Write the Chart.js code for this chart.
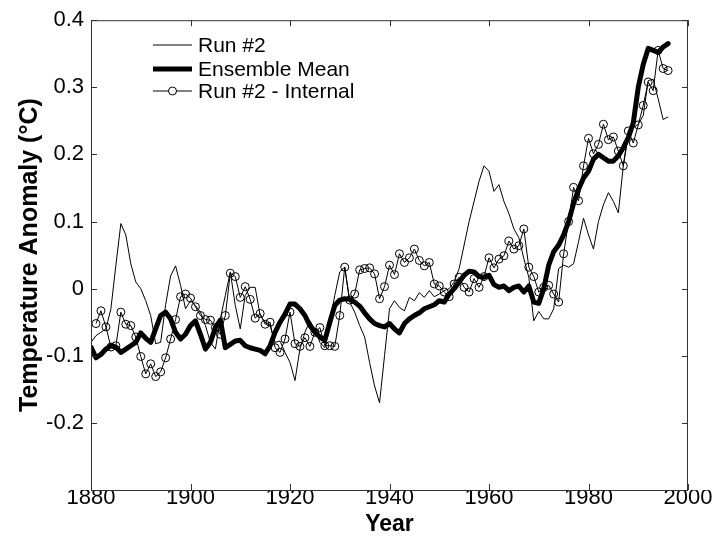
<!DOCTYPE html>
<html>
<head>
<meta charset="utf-8">
<title>Temperature Anomaly</title>
<script src="https://cdn.jsdelivr.net/npm/chart.js@4.4.1/dist/chart.umd.min.js"></script>
<style>
  html, body { margin: 0; padding: 0; background: #fff; }
  #wrap { width: 719px; height: 542px; }
</style>
</head>
<body>
<div id="wrap"><canvas id="anomalyChart" width="719" height="542"></canvas></div>
<script>
// Annual values, 1880 - 1996
const startYear = 1880;

// Run #2 (thin line)
const run2 = [
  -0.080, -0.070, -0.065, -0.060, -0.030, 0.035, 0.097, 0.080, 0.037, 0.010,
  0.000, -0.018, -0.040, -0.082, -0.080, -0.024, 0.019, 0.034, 0.005, -0.030,
  -0.018, -0.025, -0.035, -0.055, -0.080, -0.090, -0.045, -0.010, 0.025, -0.025,
  -0.060, -0.010, 0.002, 0.002, -0.040, -0.050, -0.055, -0.080, -0.078, -0.095,
  -0.110, -0.137, -0.090, -0.065, -0.048, -0.060, -0.080, -0.088, -0.050, -0.010,
  0.025, 0.032, -0.020, -0.035, -0.055, -0.072, -0.110, -0.145, -0.170, -0.100,
  -0.030, -0.018, -0.028, -0.033, -0.013, -0.018, -0.006, -0.013, -0.003, -0.012,
  -0.008, -0.003, 0.000, 0.010, 0.030, 0.065, 0.100, 0.130, 0.160, 0.183,
  0.175, 0.145, 0.155, 0.130, 0.112, 0.089, 0.076, 0.045, 0.017, -0.048,
  -0.034, -0.045, -0.045, -0.030, 0.030, 0.035, 0.032, 0.037, 0.070, 0.105,
  0.080, 0.059, 0.100, 0.125, 0.143, 0.130, 0.113, 0.183, 0.228, 0.240,
  0.245, 0.258, 0.310, 0.312, 0.283, 0.252, 0.256
];

// Ensemble Mean (thick line)
const ensembleMean = [
  -0.087, -0.103, -0.098, -0.090, -0.085, -0.087, -0.095, -0.090, -0.085, -0.080,
  -0.066, -0.074, -0.080, -0.060, -0.040, -0.035, -0.045, -0.065, -0.075, -0.068,
  -0.055, -0.048, -0.068, -0.090, -0.080, -0.058, -0.047, -0.088, -0.083, -0.078,
  -0.077, -0.085, -0.088, -0.090, -0.092, -0.097, -0.085, -0.065, -0.050, -0.038,
  -0.023, -0.023, -0.030, -0.040, -0.055, -0.065, -0.072, -0.077, -0.050, -0.025,
  -0.017, -0.015, -0.016, -0.020, -0.026, -0.036, -0.045, -0.052, -0.055, -0.057,
  -0.052, -0.060, -0.066, -0.052, -0.045, -0.040, -0.036, -0.030, -0.027, -0.024,
  -0.018, -0.020, -0.008, 0.000, 0.010, 0.020, 0.026, 0.025, 0.018, 0.017,
  0.020, 0.006, 0.002, 0.004, -0.003, 0.002, 0.004, -0.005, 0.004, -0.020,
  -0.022, 0.000, 0.035, 0.055, 0.065, 0.080, 0.100, 0.127, 0.148, 0.165,
  0.175, 0.193, 0.200, 0.195, 0.190, 0.190, 0.198, 0.210, 0.225, 0.247,
  0.300, 0.334, 0.358, 0.355, 0.352, 0.360, 0.365
];

// Run #2 - Internal (thin line with circles)
const run2Internal = [
  null, -0.052, -0.033, -0.057, -0.087, -0.085, -0.035, -0.053, -0.055, -0.072,
  -0.101, -0.127, -0.112, -0.131, -0.124, -0.103, -0.075, -0.046, -0.012, -0.008,
  -0.014, -0.027, -0.040, -0.046, -0.047, -0.058, -0.068, -0.040, 0.023, 0.018,
  -0.013, 0.003, -0.016, -0.044, -0.037, -0.053, -0.050, -0.088, -0.095, -0.075,
  -0.035, -0.082, -0.086, -0.073, -0.086, -0.065, -0.058, -0.085, -0.085, -0.086,
  -0.040, 0.032, -0.017, -0.008, 0.028, 0.030, 0.031, 0.022, -0.015, 0.003,
  0.035, 0.021, 0.052, 0.039, 0.046, 0.059, 0.042, 0.034, 0.039, 0.007,
  0.004, -0.005, -0.012, 0.007, 0.017, 0.002, -0.005, 0.015, 0.002, 0.018,
  0.046, 0.031, 0.044, 0.049, 0.071, 0.059, 0.064, 0.089, 0.032, 0.018,
  -0.005, 0.002, 0.005, -0.008, -0.020, 0.052, 0.100, 0.151, 0.131, 0.183,
  0.224, 0.201, 0.215, 0.245, 0.222, 0.226, 0.205, 0.183, 0.235, 0.217,
  0.244, 0.273, 0.308, 0.295, 0.355, 0.328, 0.325
];

// Tick labels
const xTickValues = [1880, 1900, 1920, 1940, 1960, 1980, 2000];
const yTickValues = [-0.2, -0.1, 0, 0.1, 0.2, 0.3, 0.4];

const years = run2.map((v, i) => startYear + i);
const toPoints = values => values.map((v, i) => ({ x: years[i], y: v }));

const fontFamily = '"Liberation Sans", Arial, Helvetica, sans-serif';

// Box around the plot, inward ticks on all four sides, and the legend
const axesBox = {
  id: 'axesBox',
  afterDatasetsDraw(chart) {
    const { ctx, chartArea: a, scales: { x, y } } = chart;
    const tick = 6;
    ctx.save();
    ctx.strokeStyle = '#333';
    ctx.lineWidth = 1;
    ctx.strokeRect(a.left + 0.5, a.top + 0.5, a.right - a.left - 1, a.bottom - a.top);
    ctx.beginPath();
    xTickValues.forEach(v => {
      const px = Math.round(x.getPixelForValue(v)) + 0.5;
      ctx.moveTo(px, a.bottom);
      ctx.lineTo(px, a.bottom - tick);
      ctx.moveTo(px, a.top);
      ctx.lineTo(px, a.top + tick);
    });
    yTickValues.forEach(v => {
      const py = Math.round(y.getPixelForValue(v)) + 0.5;
      ctx.moveTo(a.left, py);
      ctx.lineTo(a.left + tick, py);
      ctx.moveTo(a.right, py);
      ctx.lineTo(a.right - tick, py);
    });
    ctx.stroke();

    // legend (top left, inside the axes)
    const rows = [45, 69, 91];
    ctx.font = '21px ' + fontFamily;
    ctx.textAlign = 'left';
    ctx.textBaseline = 'middle';
    chart.data.datasets.forEach((ds, i) => {
      const ly = rows[i];
      ctx.strokeStyle = '#000';
      ctx.lineWidth = ds.borderWidth;
      ctx.beginPath();
      ctx.moveTo(153, ly);
      ctx.lineTo(192, ly);
      ctx.stroke();
      if (ds.pointRadius > 0) {
        ctx.lineWidth = 1;
        ctx.fillStyle = '#fff';
        ctx.beginPath();
        ctx.arc(172.5, ly, ds.pointRadius, 0, Math.PI * 2);
        ctx.fill();
        ctx.stroke();
      }
      ctx.fillStyle = '#000';
      ctx.fillText(ds.label, 198, ly + 1);
    });
    ctx.restore();
  }
};

const ctx = document.getElementById('anomalyChart').getContext('2d');
const anomalyChart = new Chart(ctx, {
  type: 'line',
  data: {
    datasets: [{
      label: 'Run #2',
      data: toPoints(run2),
      borderColor: '#000',
      borderWidth: 1,
      pointRadius: 0,
      order: 3
    }, {
      label: 'Ensemble Mean',
      data: toPoints(ensembleMean),
      borderColor: '#000',
      borderWidth: 5,
      borderJoinStyle: 'round',
      borderCapStyle: 'round',
      pointRadius: 0,
      order: 2
    }, {
      label: 'Run #2 - Internal',
      data: toPoints(run2Internal),
      borderColor: '#000',
      borderWidth: 1,
      pointRadius: 4,
      pointBorderWidth: 1,
      pointBorderColor: '#000',
      pointBackgroundColor: 'rgba(0,0,0,0)',
      order: 1
    }]
  },
  options: {
    responsive: false,
    animation: false,
    devicePixelRatio: 1,
    layout: { padding: { left: 0, right: 31, top: 19, bottom: 0 } },
    plugins: {
      legend: { display: false },
      tooltip: { enabled: false }
    },
    elements: { line: { tension: 0 } },
    scales: {
      x: {
        type: 'linear',
        min: 1880,
        max: 2000,
        afterBuildTicks: scale => { scale.ticks = xTickValues.map(v => ({ value: v })); },
        afterFit: scale => { scale.height = 52; },
        grid: { display: false, drawTicks: false },
        border: { display: false },
        ticks: {
          color: '#000',
          padding: -5,
          maxRotation: 0,
          font: { family: fontFamily, size: 22 },
          callback: value => String(value)
        },
        title: {
          display: true,
          text: 'Year',
          color: '#000',
          padding: { top: 0, bottom: 4 },
          font: { family: fontFamily, size: 23, weight: 'bold' }
        }
      },
      y: {
        type: 'linear',
        min: -0.3,
        max: 0.4,
        afterBuildTicks: scale => { scale.ticks = yTickValues.map(v => ({ value: v })); },
        afterFit: scale => { scale.width = 91; },
        grid: { display: false, drawTicks: false },
        border: { display: false },
        ticks: {
          color: '#000',
          padding: 7,
          font: { family: fontFamily, size: 22 },
          callback: value => String(Math.round(value * 10) / 10)
        },
        title: {
          display: true,
          text: 'Temperature Anomaly (°C)',
          color: '#000',
          padding: { top: 15, bottom: 0 },
          font: { family: fontFamily, size: 25, weight: 'bold' }
        }
      }
    }
  },
  plugins: [axesBox]
});
</script>
</body>
</html>
